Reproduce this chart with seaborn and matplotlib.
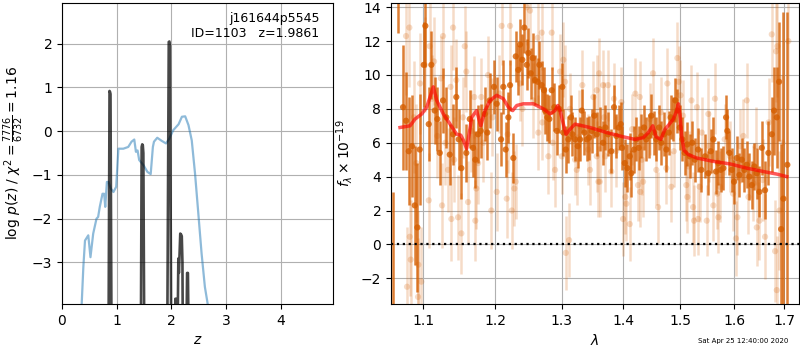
import numpy as np
import pandas as pd
import matplotlib
matplotlib.use("Agg")
import matplotlib.pyplot as plt
import seaborn as sns
from matplotlib.ticker import FixedLocator, FixedFormatter, NullLocator

# ---------------- data: redshift fit (left panel) ----------------
z_chi = [0.34, 0.36, 0.39, 0.42, 0.48, 0.52, 0.57, 0.63, 0.66, 0.69, 0.74, 0.77, 0.79,
         0.82, 0.85, 0.89, 0.94, 0.99, 1.03, 1.12, 1.21, 1.27, 1.32, 1.35, 1.38, 1.41,
         1.49, 1.56, 1.62, 1.66, 1.68, 1.74, 1.82, 1.90, 1.96, 2.03, 2.13, 2.19, 2.25,
         2.31, 2.37, 2.43, 2.49, 2.55, 2.61, 2.66, 2.69]
chi_scaled = [-4.4, -3.94, -3.1, -2.5, -2.38, -2.88, -2.34, -2.0, -1.96, -1.73, -1.43, -1.43, -1.73,
              -1.16, -1.16, -1.31, -1.39, -1.27, -0.40, -0.40, -0.36, -0.24, -0.19, -0.47, -0.44, -0.66,
              -0.78, -0.93, -0.98, -0.36, -0.24, -0.15, -0.22, -0.28, -0.17, 0.02, 0.16, 0.33, 0.34,
              0.14, -0.21, -0.97, -1.88, -2.80, -3.56, -3.94, -4.4]

z_pz = [0.00, 0.84, 0.868, 0.877, 0.886, 0.915, 1.00, 1.43, 1.455, 1.466, 1.476, 1.486, 1.515,
        1.60, 1.91, 1.950, 1.962, 1.972, 2.005, 2.05, 2.070, 2.085, 2.10, 2.125, 2.135, 2.145,
        2.160, 2.175, 2.188, 2.200, 2.212, 2.24, 2.270, 2.285, 2.300, 2.315, 2.35, 5.00]
logpz = [-40.0, -8.0, 0.92, 0.90, 0.85, -8.0, -30.0, -8.0, -0.36, -0.30, -0.32, -0.50, -8.0,
         -30.0, -8.0, 2.04, 2.05, 1.95, -8.0, -6.0, -3.83, -3.83, -6.0, -2.91, -3.24, -2.90,
         -2.34, -2.36, -2.40, -3.00, -6.0, -8.0, -5.0, -3.24, -3.24, -5.0, -20.0, -40.0]

# ---------------- data: spectrum (right panel) ----------------
wave_bin = [1.0609, 1.0667, 1.0738, 1.0777, 1.0812, 1.0855, 1.0891, 1.0925, 1.0956, 1.1009,
            1.1031, 1.1076, 1.1111, 1.1156, 1.1191, 1.1224, 1.1268, 1.1313, 1.1360, 1.1405,
            1.1450, 1.1483, 1.1520, 1.1589, 1.1637, 1.1683, 1.1715, 1.1754, 1.1792, 1.1849,
            1.1886, 1.1920, 1.1982,
            1.2021, 1.2084, 1.2117, 1.2152, 1.2191, 1.2216, 1.2264, 1.2300, 1.2338, 1.2364,
            1.2398, 1.2428, 1.2464, 1.2488, 1.2524, 1.2554, 1.2589, 1.2630, 1.2655, 1.2691,
            1.2726, 1.2742, 1.2777, 1.2808, 1.2845, 1.2885, 1.2923, 1.2963, 1.3010, 1.3026,
            1.3064, 1.3105, 1.3147, 1.3168, 1.3211, 1.3254, 1.3291, 1.3318, 1.3360, 1.3398,
            1.3435, 1.3479, 1.3522, 1.3561,
            1.3610, 1.3664, 1.3702, 1.3746, 1.3801, 1.3846, 1.3885, 1.3925, 1.3959, 1.3981,
            1.4026, 1.4070, 1.4111, 1.4138, 1.4184, 1.4223, 1.4264, 1.4309, 1.4356, 1.4395,
            1.4437, 1.4483, 1.4530, 1.4570, 1.4618, 1.4658, 1.4706, 1.4747, 1.4790, 1.4825,
            1.4866, 1.4908, 1.4944, 1.4987, 1.5034, 1.5077, 1.5124, 1.5167, 1.5215, 1.5260,
            1.5321, 1.5382,
            1.5451, 1.5512, 1.5557, 1.5606, 1.5656, 1.5700, 1.5745, 1.5795, 1.5847, 1.5871,
            1.5910, 1.5956, 1.6000, 1.6053, 1.6103, 1.6149, 1.6200, 1.6247, 1.6298, 1.6345,
            1.6396, 1.6444, 1.6497, 1.6544, 1.6609, 1.6676, 1.6744, 1.6791, 1.6845, 1.6892,
            1.6933, 1.6980, 1.7061]
flux_bin = [-6.0, 18.0, 8.1, 7.3, 5.5, 5.8, 2.3, 1.0, 5.6, 10.6,
            12.9, 7.1, 10.6, 7.9, 7.4, 5.4, 8.5, 7.5, 5.3, 6.5,
            8.7, 6.2, 4.5, 5.4, 7.4, 5.7, 5.0, 6.5, 6.7, 7.7,
            6.6, 8.5, 9.3,
            8.3, 6.2, 9.3, 5.6, 7.5, 9.4, 5.1, 11.1, 10.3, 11.8,
            10.9, 12.8, 10.6, 11.3, 10.1, 11.0, 9.7, 9.6, 10.6, 9.4,
            9.1, 7.9, 7.5, 7.4, 9.1, 8.1, 6.7, 8.0, 9.3, 6.6,
            5.6, 6.2, 7.5, 6.5, 6.2, 5.8, 6.2, 7.9, 6.6, 6.2,
            6.3, 6.7, 7.6, 6.5,
            6.8, 6.0, 6.9, 6.5, 5.5, 8.1, 6.4, 6.9, 7.1, 5.7,
            4.8, 4.5, 5.2, 4.2, 5.6, 6.2, 5.7, 6.4, 6.9, 6.2,
            6.4, 7.6, 6.6, 6.2, 6.9, 6.0, 6.5, 5.6, 6.6, 7.5,
            7.4, 8.5, 7.9, 6.9, 6.2, 5.4, 5.9, 5.2, 6.0, 5.0,
            5.6, 4.4,
            5.2, 4.2, 5.5, 6.2, 4.3, 4.8, 4.4, 4.5, 7.5, 6.7,
            5.4, 4.4, 3.7, 5.1, 4.1, 5.0, 4.4, 4.7, 4.0, 3.5,
            4.6, 4.2, 3.1, 5.7, 3.2, 5.4, 6.5, 7.9, 7.5, 9.6,
            0.9, 2.7, 4.7]
err_bin = [9.1, 5.5, 3.7, 2.9, 3.2, 3.0, 3.5, 3.8, 3.3, 2.5,
           2.4, 2.2, 2.0, 2.0, 1.9, 1.9, 1.9, 1.8, 1.8, 1.8,
           1.8, 1.8, 1.8, 1.7, 1.7, 1.7, 1.7, 1.7, 1.6, 1.6,
           1.6, 1.6, 1.6,
           1.6, 1.6, 1.6, 1.6, 1.5, 1.5, 1.5, 1.5, 1.5, 1.5,
           1.5, 1.5, 1.5, 1.5, 1.5, 1.5, 1.5, 1.4, 1.4, 1.4,
           1.4, 1.4, 1.4, 1.4, 1.4, 1.4, 1.4, 1.4, 1.4, 1.4,
           1.4, 1.4, 1.3, 1.3, 1.3, 1.3, 1.3, 1.3, 1.3, 1.3,
           1.3, 1.3, 1.3, 1.3,
           1.3, 1.3, 1.3, 1.3, 1.3, 1.3, 1.3, 1.3, 1.3, 1.3,
           1.4, 1.4, 1.4, 1.4, 1.4, 1.3, 1.3, 1.3, 1.3, 1.3,
           1.3, 1.3, 1.3, 1.3, 1.3, 1.3, 1.3, 1.3, 1.3, 1.3,
           1.3, 1.3, 1.3, 1.3, 1.3, 1.3, 1.3, 1.3, 1.3, 1.3,
           1.3, 1.3,
           1.3, 1.3, 1.3, 1.3, 1.3, 1.3, 1.3, 1.3, 1.3, 1.3,
           1.3, 1.3, 1.3, 1.3, 1.3, 1.3, 1.3, 1.4, 1.4, 1.4,
           1.4, 1.5, 1.5, 1.6, 1.7, 1.9, 2.2, 2.6, 3.0, 3.5,
           5.0, 11.0, 9.0]

wave_raw = [1.0790, 1.0838, 1.0825, 1.0934, 1.0977, 1.0912, 1.0820, 1.1023, 1.1076, 1.1147,
            1.1089, 1.1268, 1.1255, 1.1405, 1.1371, 1.1382, 1.1474, 1.1520, 1.1589, 1.1613,
            1.1715, 1.1729, 1.1754, 1.1800, 1.1896, 1.1943, 1.1567, 1.1450, 1.1191, 1.1336,
            1.1659, 1.0777, 1.0938,
            1.2093, 1.2216, 1.2021, 1.2167, 1.2241, 1.2279, 1.2300, 1.2464, 1.2513, 1.2630,
            1.2691, 1.2845, 1.3026, 1.3052, 1.2793, 1.2896, 1.2974, 1.3064, 1.3116, 1.3211,
            1.3238, 1.3327, 1.3451, 1.3506, 1.3561, 1.3588, 1.2639, 1.2364,
            1.3610, 1.3600, 1.3664, 1.3746, 1.3801, 1.3702, 1.3846, 1.3969, 1.3997, 1.4053,
            1.4111, 1.4036, 1.4206, 1.4282, 1.4252, 1.4290, 1.4339, 1.4512, 1.4600, 1.4570,
            1.4747, 1.4765, 1.4836, 1.4944, 1.4969, 1.5106, 1.5124, 1.5229, 1.5247, 1.5321,
            1.5200, 1.5300, 1.5046,
            1.5637, 1.5512, 1.5482, 1.5606, 1.5700, 1.6037, 1.6064, 1.6247, 1.6444, 1.6497,
            1.6609, 1.6744, 1.6831, 1.6857, 1.6811, 1.6845, 1.7082, 1.5923, 1.6180, 1.6377,
            1.5732, 1.5390,
            1.0880, 1.0960, 1.1120, 1.1240, 1.1300, 1.1420, 1.1540, 1.1700, 1.1830, 1.1960,
            1.2060, 1.2180, 1.2400, 1.2560, 1.2700, 1.2860, 1.3000, 1.3130, 1.3280, 1.3420,
            1.3560, 1.3680, 1.3880, 1.4150, 1.4320, 1.4460, 1.4650, 1.4880, 1.5000, 1.5150,
            1.5350, 1.5520, 1.5680, 1.5820, 1.5980, 1.6120, 1.6280, 1.6420, 1.6560, 1.6680,
            1.6960, 1.6900]
flux_raw = [-2.5, -0.9, 0.45, -3.1, -2.2, 4.8, 12.8, 10.6, 2.6, 10.8,
            11.7, 12.3, 2.3, 12.8, 9.3, 1.5, 1.6, 0.65, 10.2, 2.5,
            1.4, 3.3, 4.8, 8.7, 10.0, 2.0, 11.7, 9.7, 6.4, 4.4,
            6.7, 12.3, -1.2,
            12.9, 12.9, 3.1, 2.7, 2.0, 3.3, 3.7, 14.0, 13.8, 12.2,
            12.5, 12.5, 10.9, 9.6, 5.2, 4.4, 10.2, -0.5, 0.25, 5.0,
            4.4, 9.4, 4.4, 8.7, 9.1, 3.7, 6.6, 9.5,
            3.7, 10.1, 9.4, 9.4, 4.3, 5.2, 8.6, 8.4, 1.5, 2.4,
            1.2, 2.8, 8.9, 8.7, 3.5, 3.1, 3.7, 10.1, 2.2, 4.4,
            4.5, 9.5, 3.4, 11.0, 9.6, 3.5, 2.8, 2.2, 1.4, 1.5,
            8.5, 8.1, 7.6,
            8.6, 7.7, 1.4, 2.3, 1.6, 0.35, 1.6, 8.5, 1.0, 1.4,
            0.45, 12.4, 11.4, 11.7, -0.4, -2.7, 12.0, 5.2, 6.4, 3.6,
            3.4, 6.6,
            7.5, 9.5, 8.6, 9.8, 6.0, 5.0, 7.5, 8.7, 6.0, 7.5,
            8.9, 6.5, 8.0, 8.5, 7.2, 6.0, 5.2, 8.0, 7.0, 5.6,
            5.2, 7.5, 5.5, 6.8, 5.0, 7.4, 7.8, 5.5, 8.8, 4.6,
            3.4, 5.8, 3.0, 6.2, 3.0, 5.8, 2.8, 5.8, 3.8, 7.2,
            6.0, 2.0]
err_raw = [3.5, 3.5, 3.5, 3.5, 3.2, 3.5, 3.5, 2.8, 2.8, 2.6,
           2.6, 2.5, 2.5, 2.5, 2.5, 2.5, 2.5, 2.4, 2.4, 2.4,
           2.4, 2.4, 2.4, 2.3, 2.3, 2.3, 2.4, 2.4, 2.5, 2.5,
           2.4, 3.5, 3.2,
           2.3, 2.3, 2.3, 2.3, 2.3, 2.2, 2.2, 2.2, 2.2, 2.2,
           2.2, 2.2, 2.2, 2.2, 2.2, 2.2, 2.2, 2.2, 2.2, 2.1,
           2.1, 2.1, 2.1, 2.1, 2.1, 2.1, 2.2, 2.2,
           2.1, 2.1, 2.1, 2.1, 2.1, 2.1, 2.1, 2.1, 2.2, 2.2,
           2.2, 2.2, 2.1, 2.1, 2.1, 2.1, 2.1, 2.1, 2.1, 2.1,
           2.1, 2.1, 2.1, 2.1, 2.1, 2.1, 2.1, 2.1, 2.1, 2.1,
           2.1, 2.1, 2.1,
           2.1, 2.1, 2.1, 2.1, 2.1, 2.2, 2.2, 2.2, 2.3, 2.3,
           2.5, 2.8, 3.0, 3.0, 3.0, 3.2, 4.0, 2.1, 2.2, 2.2,
           2.1, 2.1,
           3.3, 3.0, 2.6, 2.5, 2.5, 2.5, 2.4, 2.4, 2.3, 2.3,
           2.3, 2.3, 2.2, 2.2, 2.2, 2.2, 2.2, 2.1, 2.1, 2.1,
           2.1, 2.1, 2.1, 2.1, 2.1, 2.1, 2.1, 2.1, 2.1, 2.1,
           2.1, 2.1, 2.1, 2.1, 2.2, 2.2, 2.2, 2.3, 2.4, 2.6,
           4.0, 3.5]

wave_model = [1.0699, 1.0829, 1.0895, 1.0983, 1.1049, 1.1137, 1.1183, 1.1272, 1.1364, 1.1455,
              1.1511, 1.1547, 1.1593, 1.1627, 1.1664, 1.1733, 1.1792, 1.1853, 1.1925, 1.2021,
              1.2117, 1.2191, 1.2255, 1.2315, 1.2413, 1.2564, 1.2716, 1.2819, 1.2896, 1.2939,
              1.2974, 1.3026, 1.3068, 1.3131, 1.3211, 1.3451, 1.3725, 1.4002, 1.4201, 1.4344,
              1.4430, 1.4507, 1.4565, 1.4648, 1.4724, 1.4800, 1.4872, 1.4933, 1.4962, 1.4992,
              1.5023, 1.5064, 1.5142, 1.5297, 1.5606, 1.5923, 1.6247, 1.6577, 1.6845, 1.7049]
flux_model = [6.9, 7.0, 7.4, 7.7, 8.1, 9.3, 8.5, 7.7, 7.1, 6.5,
              6.45, 6.15, 5.65, 6.5, 7.5, 7.9, 7.0, 7.9, 8.5, 8.8,
              8.6, 8.1, 7.9, 8.2, 8.3, 8.3, 8.0, 7.7, 7.9, 8.2,
              7.9, 7.1, 6.5, 6.8, 7.1, 6.9, 6.6, 6.35, 6.2, 6.3,
              6.6, 7.0, 6.35, 6.2, 6.8, 7.1, 7.4, 7.9, 8.3, 7.6,
              6.35, 5.55, 5.3, 5.1, 4.9, 4.75, 4.5, 4.3, 4.15, 4.0]

lam_ticks = [1.1, 1.2, 1.3, 1.4, 1.5, 1.6, 1.7]

# ---------------- figure ----------------
plt.rcParams['font.family'] = ['DejaVu Sans']
fig = plt.figure(figsize=(8, 3.5), dpi=100)
ax1 = fig.add_axes([0.0775, 0.1314, 0.33875, 0.8600])
ax2 = fig.add_axes([0.4888, 0.1314, 0.5100, 0.8600])

# left panel
sns.lineplot(x=z_chi, y=chi_scaled, ax=ax1, color='tab:blue', alpha=0.5, lw=1.6,
             sort=False, estimator=None)
sns.lineplot(x=z_pz, y=logpz, ax=ax1, color='k', alpha=0.72, lw=1.9,
             sort=False, estimator=None)
ax1.set_xlim(0, 4.95)
ax1.set_ylim(-3.95, 2.93)
ax1.set_xticks([0, 1, 2, 3, 4])
ax1.set_yticks([-3, -2, -1, 0, 1, 2])
ax1.grid(True)
ax1.set_axisbelow(True)
ax1.set_xlabel(r'$z$')
ax1.set_ylabel(r'log $p(z)$ / $\chi^2=\frac{7776}{6732}=1.16$')
ax1.text(0.95, 0.97, 'j161644p5545\nID=1103   z=1.9861', transform=ax1.transAxes,
         ha='right', va='top', fontsize=9)

# right panel
orange = '#D55E00'
ax2.errorbar(wave_raw, flux_raw, yerr=err_raw, fmt='none', ecolor=orange, alpha=0.22,
             elinewidth=1.8, zorder=1)
sns.scatterplot(x=wave_raw, y=flux_raw, ax=ax2, color=orange, alpha=0.22, s=20,
                edgecolor='none', zorder=1)
ax2.errorbar(wave_bin, flux_bin, yerr=err_bin, fmt='none', ecolor=orange, alpha=0.8,
             elinewidth=1.8, zorder=2)
sns.scatterplot(x=wave_bin, y=flux_bin, ax=ax2, color=orange, alpha=0.8, s=20,
                edgecolor='none', zorder=2)
sns.lineplot(x=wave_model, y=flux_model, ax=ax2, color='r', alpha=0.65, lw=2.5,
             sort=False, estimator=None, zorder=3)
ax2.axhline(0, color='k', ls=':', lw=1.6, zorder=4)

ax2.set_xscale('log')
ax2.set_xlim(1.0584, 1.7303)
ax2.set_ylim(-3.52, 14.25)
ax2.xaxis.set_major_locator(FixedLocator(lam_ticks))
ax2.xaxis.set_major_formatter(FixedFormatter([str(t) for t in lam_ticks]))
ax2.xaxis.set_minor_locator(NullLocator())
ax2.set_yticks([-2, 0, 2, 4, 6, 8, 10, 12, 14])
ax2.grid(True)
ax2.set_axisbelow(True)
ax2.set_xlabel(r'$\lambda$')
ax2.set_ylabel(r'$f_\lambda \times 10^{-19}$')

fig.text(0.985, 0.026, 'Sat Apr 25 12:40:00 2020', ha='right', va='center', fontsize=5)

fig.savefig('out.png', dpi=100)
